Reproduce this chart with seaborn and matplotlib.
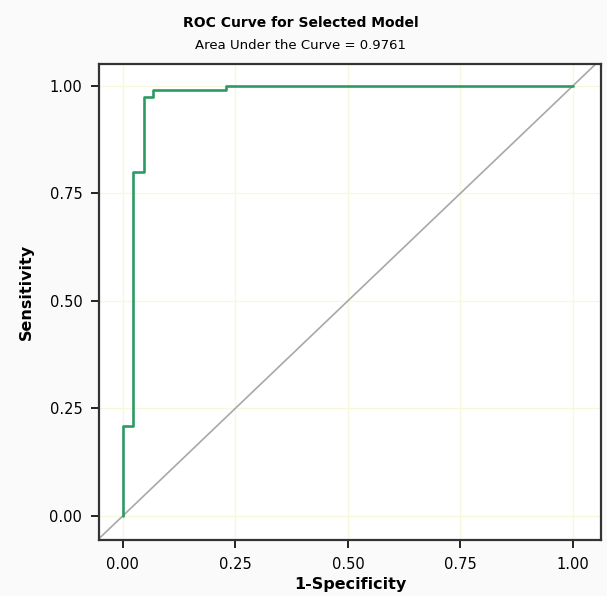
import numpy as np
import pandas as pd
import seaborn as sns
import matplotlib.pyplot as plt

# ROC points
fpr = [0.0, 0.0, 0.022, 0.022, 0.046, 0.046, 0.067, 0.067, 0.229, 0.229, 1.0]
tpr = [0.0, 0.208, 0.208, 0.799, 0.799, 0.974, 0.974, 0.991, 0.991, 1.0, 1.0]
ticks = [0.0, 0.25, 0.5, 0.75, 1.0]
tick_labels = ["0.00", "0.25", "0.50", "0.75", "1.00"]
auc = 0.9761

sns.set_theme(style="ticks", rc={
    "xtick.bottom": True, "ytick.left": True,
    "xtick.major.size": 6, "ytick.major.size": 6,
    "xtick.major.width": 1.4, "ytick.major.width": 1.4,
    "xtick.color": "#222222", "ytick.color": "#222222",
})
plt.rcParams['font.family'] = ['DejaVu Sans']

df = pd.DataFrame({"fpr": fpr, "tpr": tpr})

fig = plt.figure(figsize=(6.07, 5.96), dpi=100, facecolor="#fafafa")
ax = fig.add_axes([0.163, 0.094, 0.827, 0.799])
ax.set_facecolor("white")

# grid lines
for t in ticks:
    ax.axvline(t, color="#f7f7dc", lw=0.9, zorder=0)
    ax.axhline(t, color="#f7f7dc", lw=0.9, zorder=0)

ax.axline((0, 0), (1, 1), color="#a8a8a8", lw=1.2, zorder=1)
sns.lineplot(data=df, x="fpr", y="tpr", sort=False, estimator=None,
             color="#2e9a63", lw=1.9, ax=ax, zorder=2)

ax.set_xlim(-0.053, 1.062)
ax.set_ylim(-0.056, 1.051)
ax.set_xticks(ticks)
ax.set_xticklabels(tick_labels, fontsize=10.5, color="black")
ax.set_yticks(ticks)
ax.set_yticklabels(tick_labels, fontsize=10.5, color="black")
ax.tick_params(direction="out", pad=6)

for s in ax.spines.values():
    s.set_color("#333333")
    s.set_linewidth(1.6)

ax.set_xlabel("1-Specificity", fontsize=11.5, fontweight="bold", color="black",
              labelpad=4)
ax.set_ylabel("Sensitivity", fontsize=11.5, fontweight="bold", color="black")
ax.yaxis.set_label_coords(-0.13, 0.52)

fig.text(0.496, 0.962, "ROC Curve for Selected Model", ha="center", va="center",
         fontsize=10, fontweight="bold", color="black")
fig.text(0.495, 0.923, f"Area Under the Curve = {auc}", ha="center", va="center",
         fontsize=9.5, color="black")

plt.savefig("out.png", dpi=100, facecolor=fig.get_facecolor())
